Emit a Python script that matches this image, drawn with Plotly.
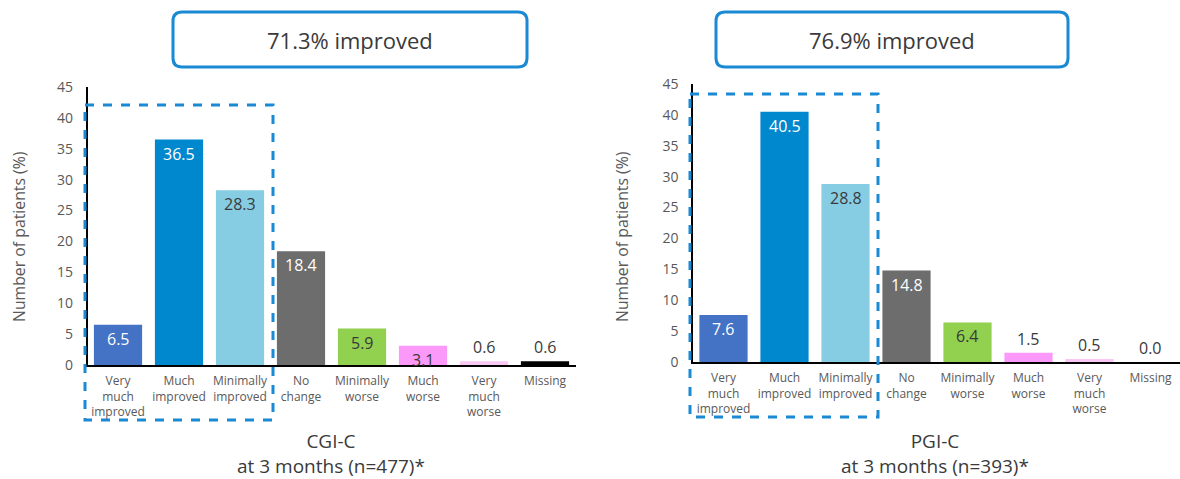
import plotly.graph_objects as go

categories = ["Very<br>much<br>improved", "Much<br>improved", "Minimally<br>improved", "No<br>change",
              "Minimally<br>worse", "Much<br>worse", "Very<br>much<br>worse", "Missing"]
cgi_values = [6.5, 36.5, 28.3, 18.4, 5.9, 3.1, 0.6, 0.6]
pgi_values = [7.6, 40.5, 28.8, 14.8, 6.4, 1.5, 0.5, 0.0]
y_ticks = [0, 5, 10, 15, 20, 25, 30, 35, 40, 45]
cgi_headline = "71.3% improved"
pgi_headline = "76.9% improved"
cgi_title = "CGI-C<br>at 3 months (n=477)*"
pgi_title = "PGI-C<br>at 3 months (n=393)*"

bar_colors = ["#4472C4", "#0088CE", "#86CDE3", "#6D6D6D", "#92D050", "#FA99F9", "#F8C7F4", "#000000"]
label_colors = ["white", "white", "#3A3A3A", "white", "#3A3A3A", "#3A3A3A", "#3A3A3A", "#3A3A3A"]

W, H = 1180, 479
FONT = "Open Sans"
GRAY = "#595959"
BLUE = "#1A8AD4"

def px(x):
    return x / W

def py(y):
    return 1 - y / H

def rounded_rect(x0, y0, x1, y1, r):
    X0, X1, Y0, Y1 = px(x0), px(x1), py(y0), py(y1)
    rx, ry = r / W, r / H
    return (f"M {X0+rx},{Y0} L {X1-rx},{Y0} Q {X1},{Y0} {X1},{Y0-ry} "
            f"L {X1},{Y1+ry} Q {X1},{Y1} {X1-rx},{Y1} L {X0+rx},{Y1} "
            f"Q {X0},{Y1} {X0},{Y1+ry} L {X0},{Y0-ry} Q {X0},{Y0} {X0+rx},{Y0} Z")

fig = go.Figure()
fig.add_trace(go.Bar(x=list(range(8)), y=cgi_values, marker_color=bar_colors, width=0.79,
                     xaxis="x", yaxis="y", hoverinfo="skip"))
fig.add_trace(go.Bar(x=list(range(8)), y=pgi_values, marker_color=bar_colors, width=0.79,
                     xaxis="x2", yaxis="y2", hoverinfo="skip"))

annotations = []
for xa, ya, vals in (("x", "y", cgi_values), ("x2", "y2", pgi_values)):
    for i, v in enumerate(vals):
        inside = v >= 3
        annotations.append(dict(
            x=i, y=v, xref=xa, yref=ya, text=f"{v:.1f}", showarrow=False,
            xanchor="center", yanchor="middle",
            yshift=-14 if inside else 14,
            font=dict(family=FONT, size=16, color=label_colors[i] if inside else "#3A3A3A")))

axis_common = dict(showgrid=False, zeroline=False, showline=True, linecolor="black", linewidth=1.5,
                   automargin=False)
xcommon = dict(axis_common, tickmode="array", tickvals=list(range(8)), ticktext=categories,
               range=[-0.5, 7.5], ticks="", ticklabelstandoff=4,
               tickfont=dict(family=FONT, size=12, color=GRAY))
ycommon = dict(axis_common, range=[0, 45], tickmode="array", tickvals=y_ticks, ticks="",
               ticklabelstandoff=10, tickfont=dict(family=FONT, size=14, color=GRAY))

fig.update_layout(
    template="none",
    width=W, height=H, margin=dict(l=0, r=0, t=0, b=0, pad=0, autoexpand=False),
    paper_bgcolor="white", plot_bgcolor="white", showlegend=False, bargap=0.2,
    xaxis=dict(xcommon, domain=[px(87.5), px(575.5)], anchor="y"),
    yaxis=dict(ycommon, domain=[py(365), py(87)], anchor="x"),
    xaxis2=dict(xcommon, domain=[px(693), 1.0], anchor="y2", range=[-0.5, 7.5 - (693 + 488 - W) / 61]),
    yaxis2=dict(ycommon, domain=[py(362), py(84)], anchor="x2"),
)

shapes = []
for (x0, y0, x1, y1) in ((85, 105, 273, 420), (690, 94, 878, 417)):
    shapes.append(dict(type="rect", xref="paper", yref="paper", x0=px(x0), x1=px(x1), y0=py(y0), y1=py(y1),
                       line=dict(color=BLUE, width=3, dash="dash"), layer="above"))
for (x0, y0, x1, y1) in ((173, 12, 527, 67), (716, 12, 1068, 67)):
    shapes.append(dict(type="path", xref="paper", yref="paper", path=rounded_rect(x0, y0, x1, y1, 9),
                       line=dict(color=BLUE, width=3), fillcolor="white"))

for txt, cx in ((cgi_headline, 350), (pgi_headline, 892)):
    annotations.append(dict(x=px(cx), y=py(40), xref="paper", yref="paper", text=txt, showarrow=False,
                            xanchor="center", yanchor="middle",
                            font=dict(family=FONT, size=22, color="#3A3A3A")))
for txt, cx in ((cgi_title, 331), (pgi_title, 935)):
    annotations.append(dict(x=px(cx), y=py(453), xref="paper", yref="paper", text=txt, showarrow=False,
                            xanchor="center", yanchor="middle",
                            font=dict(family=FONT, size=19, color="#3A3A3A")))
for cx, cy in ((19, 237), (622, 237)):
    annotations.append(dict(x=px(cx), y=py(cy), xref="paper", yref="paper", text="Number of patients (%)",
                            showarrow=False, textangle=-90, xanchor="center", yanchor="middle",
                            font=dict(family=FONT, size=15.8, color=GRAY)))

fig.update_layout(shapes=shapes, annotations=annotations)
fig.write_html("out.html", post_script="document.body.style.margin='0';")
